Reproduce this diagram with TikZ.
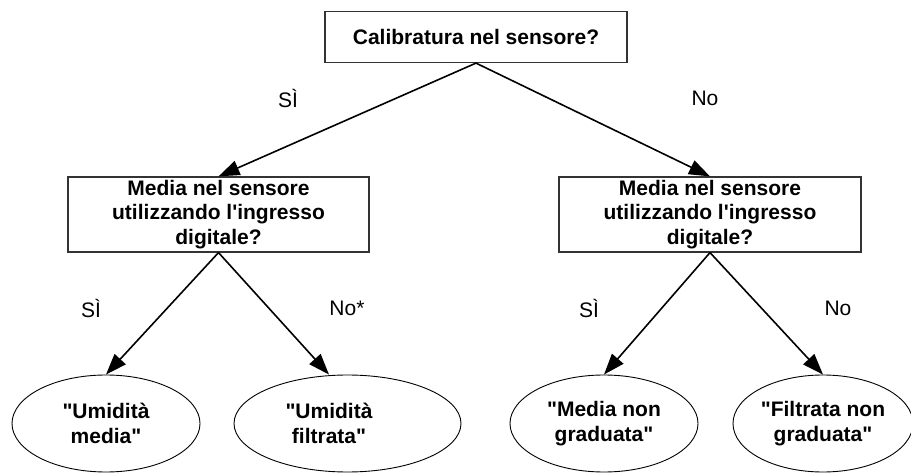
\documentclass[tikz,border=0pt]{standalone}
\usepackage{fontspec}
\setmainfont{Liberation Sans}[Ligatures=TeXOff]
\usetikzlibrary{arrows.meta,shapes.geometric}
\tikzset{
  qbox/.style={draw=black!80, line width=1.2pt, rectangle, inner sep=0pt, align=center,
    font=\fontsize{21}{24.5}\selectfont\bfseries},
  leaf/.style={draw=black, line width=0.9pt, ellipse, inner sep=0pt, align=center,
    minimum height=97pt, font=\fontsize{21}{24.5}\selectfont\bfseries},
  leaftext/.style={inner sep=0pt, align=center, font=\fontsize{21}{24.5}\selectfont\bfseries},
  lbl/.style={font=\fontsize{21}{24.5}\selectfont, inner sep=0pt},
  conn/.style={line width=1.6pt, -{Triangle[length=21pt,width=15pt]}}
}
\begin{document}
\begin{tikzpicture}[x=1pt,y=-1pt]
\useasboundingbox (0,0) rectangle (911,473);
\node[qbox, minimum width=302pt, minimum height=51pt] (top) at (476,37) {Calibratura nel sensore?};
\node[qbox, minimum width=301pt, minimum height=75pt] (qa) at (218.5,214.5) {Media nel sensore\\utilizzando l'ingresso\\digitale?};
\node[qbox, minimum width=302pt, minimum height=75pt] (qb) at (710,214.5) {Media nel sensore\\utilizzando l'ingresso\\digitale?};
\node[leaf, minimum width=188pt] (e1) at (106,423.5) {"Umidità\\media"};
\node[leaf, minimum width=227pt] (e2) at (347.5,423.5) {};
\node[leaftext] (e2t) at (329,423.5) {"Umidità\\filtrata"};
\node[leaf, minimum width=188pt] (e3) at (604,423.5) {"Media non\\graduata"};
\node[leaf, minimum width=180pt] (e4) at (823,423.5) {"Filtrata non\\graduata"};
\draw[conn] (top.south) -- (qa.north);
\draw[conn] (top.south) -- (qb.north);
\draw[conn] (qa.south) -- (e1.north);
\draw[conn] (qa.south) -- (e2.north -| e2t);
\draw[conn] (qb.south) -- (e3.north);
\draw[conn] (qb.south) -- (e4.north);
\node[lbl] (l1) at (288,98) {SÌ};
\node[lbl] (l2) at (705,98) {No};
\node[lbl] (l3) at (91,308) {SÌ};
\node[lbl] (l4) at (347,308) {No*};
\node[lbl] (l5) at (589,308) {SÌ};
\node[lbl] (l6) at (838,308) {No};
\end{tikzpicture}
\end{document}
